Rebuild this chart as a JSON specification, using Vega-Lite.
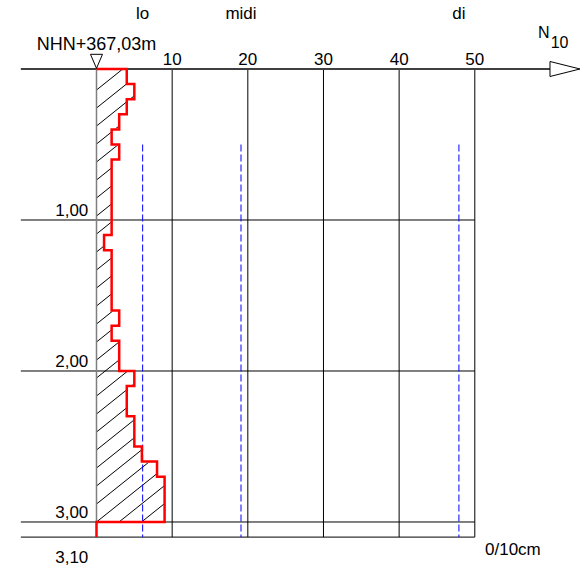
{
  "$schema": "https://vega.github.io/schema/vega-lite/v6.json",
  "width": 585,
  "height": 572,
  "padding": 0,
  "autosize": {"type": "none"},
  "background": "white",
  "config": {"view": {"stroke": null}, "axis": {"disable": true}, "text": {"font": "Liberation Sans", "fontSize": 17, "color": "black"}},
  "datasets": {
    "profile": [
      {"top": 0.0, "bottom": 0.1, "n": 4}, {"top": 0.1, "bottom": 0.2, "n": 5}, {"top": 0.2, "bottom": 0.3, "n": 4},
      {"top": 0.3, "bottom": 0.4, "n": 3}, {"top": 0.4, "bottom": 0.5, "n": 2}, {"top": 0.5, "bottom": 0.6, "n": 3},
      {"top": 0.6, "bottom": 0.7, "n": 2}, {"top": 0.7, "bottom": 0.8, "n": 2}, {"top": 0.8, "bottom": 0.9, "n": 2},
      {"top": 0.9, "bottom": 1.0, "n": 2}, {"top": 1.0, "bottom": 1.1, "n": 2}, {"top": 1.1, "bottom": 1.2, "n": 1},
      {"top": 1.2, "bottom": 1.3, "n": 2}, {"top": 1.3, "bottom": 1.4, "n": 2}, {"top": 1.4, "bottom": 1.5, "n": 2},
      {"top": 1.5, "bottom": 1.6, "n": 2}, {"top": 1.6, "bottom": 1.7, "n": 3}, {"top": 1.7, "bottom": 1.8, "n": 2},
      {"top": 1.8, "bottom": 1.9, "n": 3}, {"top": 1.9, "bottom": 2.0, "n": 3}, {"top": 2.0, "bottom": 2.1, "n": 5},
      {"top": 2.1, "bottom": 2.2, "n": 4}, {"top": 2.2, "bottom": 2.3, "n": 4}, {"top": 2.3, "bottom": 2.4, "n": 5},
      {"top": 2.4, "bottom": 2.5, "n": 5}, {"top": 2.5, "bottom": 2.6, "n": 6}, {"top": 2.6, "bottom": 2.7, "n": 8},
      {"top": 2.7, "bottom": 2.8, "n": 9}, {"top": 2.8, "bottom": 2.9, "n": 9}, {"top": 2.9, "bottom": 3.0, "n": 9}
    ],
    "outline": [
      {"i": 0, "n": 0, "d": 0.0}, {"i": 1, "n": 4, "d": 0.0}, {"i": 2, "n": 5, "d": 0.1}, {"i": 3, "n": 4, "d": 0.2},
      {"i": 4, "n": 3, "d": 0.3}, {"i": 5, "n": 2, "d": 0.4}, {"i": 6, "n": 3, "d": 0.5}, {"i": 7, "n": 2, "d": 0.6},
      {"i": 8, "n": 1, "d": 1.1}, {"i": 9, "n": 2, "d": 1.2}, {"i": 10, "n": 3, "d": 1.6}, {"i": 11, "n": 2, "d": 1.7},
      {"i": 12, "n": 3, "d": 1.8}, {"i": 13, "n": 5, "d": 2.0}, {"i": 14, "n": 4, "d": 2.1}, {"i": 15, "n": 5, "d": 2.3},
      {"i": 16, "n": 6, "d": 2.5}, {"i": 17, "n": 8, "d": 2.6}, {"i": 18, "n": 9, "d": 2.7}, {"i": 19, "n": 0, "d": 3.0},
      {"i": 20, "n": 0, "d": 3.1}
    ],
    "hatch": [
      {"d0": 0.1392, "d1": -0.2295}, {"d0": 0.2584, "d1": -0.1103}, {"d0": 0.3776, "d1": 0.0089}, {"d0": 0.4968, "d1": 0.1281},
      {"d0": 0.6160, "d1": 0.2473}, {"d0": 0.7352, "d1": 0.3665}, {"d0": 0.8544, "d1": 0.4857}, {"d0": 0.9736, "d1": 0.6049},
      {"d0": 1.0928, "d1": 0.7241}, {"d0": 1.2120, "d1": 0.8433}, {"d0": 1.3312, "d1": 0.9625}, {"d0": 1.4504, "d1": 1.0817},
      {"d0": 1.5696, "d1": 1.2009}, {"d0": 1.6888, "d1": 1.3201}, {"d0": 1.8080, "d1": 1.4393}, {"d0": 1.9272, "d1": 1.5585},
      {"d0": 2.0464, "d1": 1.6777}, {"d0": 2.1656, "d1": 1.7969}, {"d0": 2.2848, "d1": 1.9161}, {"d0": 2.4040, "d1": 2.0353},
      {"d0": 2.5232, "d1": 2.1545}, {"d0": 2.6424, "d1": 2.2737}, {"d0": 2.7616, "d1": 2.3929}, {"d0": 2.8808, "d1": 2.5121},
      {"d0": 3.0000, "d1": 2.6313}, {"d0": 3.1192, "d1": 2.7505}, {"d0": 3.2384, "d1": 2.8697}, {"d0": 3.3576, "d1": 2.9889}
    ],
    "grid": [{"v": 10}, {"v": 20}, {"v": 30}, {"v": 40}, {"v": 50}],
    "levels": [{"d": 1.0, "label": "1,00"}, {"d": 2.0, "label": "2,00"}, {"d": 3.0, "label": "3,00"}, {"d": 3.1, "label": ""}],
    "refs": [{"name": "lo", "n": 6.1}, {"name": "midi", "n": 19.1}, {"name": "di", "n": 47.9}]
  },
  "layer": [
    {
      "data": {"name": "hatch"},
      "mark": {"type": "rule", "color": "black", "strokeWidth": 1},
      "encoding": {
        "x": {"datum": 0, "type": "quantitative", "scale": {"domain": [-12.754, 64.565], "nice": false, "zero": false}},
        "x2": {"datum": 9.2},
        "y": {"field": "d0", "type": "quantitative", "scale": {"domain": [-0.45695, 3.33113], "nice": false, "zero": false, "reverse": true}},
        "y2": {"field": "d1"}
      }
    },
    {
      "data": {"name": "profile"},
      "mark": {"type": "rect", "fill": "white", "yOffset": -1, "y2Offset": 1},
      "encoding": {
        "x": {"field": "n", "type": "quantitative"},
        "x2": {"datum": 9.3},
        "y": {"field": "top", "type": "quantitative"},
        "y2": {"field": "bottom"}
      }
    },
    {
      "data": {"values": [{}]},
      "mark": {"type": "rect", "fill": "white"},
      "encoding": {
        "x": {"datum": 0, "type": "quantitative"},
        "x2": {"datum": 9.3},
        "y": {"datum": -0.4, "type": "quantitative"},
        "y2": {"datum": 0}
      }
    },
    {
      "data": {"values": [{}]},
      "mark": {"type": "rect", "fill": "white"},
      "encoding": {
        "x": {"datum": -0.5, "type": "quantitative"},
        "x2": {"datum": 9.3},
        "y": {"datum": 3.0, "type": "quantitative"},
        "y2": {"datum": 3.45}
      }
    },
    {
      "data": {"name": "levels"},
      "mark": {"type": "rule", "color": "black", "strokeWidth": 1},
      "encoding": {
        "x": {"datum": -10, "type": "quantitative"},
        "x2": {"datum": 50},
        "y": {"field": "d", "type": "quantitative"}
      }
    },
    {
      "data": {"name": "grid"},
      "mark": {"type": "rule", "color": "black", "strokeWidth": 1},
      "encoding": {
        "x": {"field": "v", "type": "quantitative"},
        "y": {"datum": 0, "type": "quantitative"},
        "y2": {"datum": 3.1}
      }
    },
    {
      "data": {"values": [{}]},
      "mark": {"type": "rule", "color": "#404040", "strokeWidth": 2},
      "encoding": {
        "x": {"datum": -10, "type": "quantitative"},
        "x2": {"datum": 60},
        "y": {"datum": 0, "type": "quantitative"}
      }
    },
    {
      "data": {"values": [{}]},
      "mark": {"type": "rule", "color": "#7f7f7f", "strokeWidth": 1.5},
      "encoding": {
        "x": {"datum": 0, "type": "quantitative"},
        "y": {"datum": 0, "type": "quantitative"},
        "y2": {"datum": 3.0}
      }
    },
    {
      "data": {"name": "refs"},
      "mark": {"type": "rule", "color": "#0000ff", "strokeWidth": 1, "strokeDash": [7, 3]},
      "encoding": {
        "x": {"field": "n", "type": "quantitative"},
        "y": {"datum": 0.5, "type": "quantitative"},
        "y2": {"datum": 3.1}
      }
    },
    {
      "data": {"name": "outline"},
      "mark": {"type": "line", "color": "#ff0000", "strokeWidth": 2.5, "interpolate": "step-before"},
      "encoding": {
        "x": {"field": "n", "type": "quantitative"},
        "y": {"field": "d", "type": "quantitative"},
        "order": {"field": "i", "type": "quantitative"}
      }
    },
    {
      "data": {"values": [{}]},
      "mark": {"type": "point", "shape": "M -0.86 -1 L 0.86 -1 L 0 1 Z", "size": 196, "filled": true, "fill": "white", "stroke": "black", "strokeWidth": 1, "opacity": 1},
      "encoding": {
        "x": {"datum": 0, "type": "quantitative"},
        "y": {"datum": -0.051, "type": "quantitative"}
      }
    },
    {
      "data": {"values": [{}]},
      "mark": {"type": "point", "shape": "M -1 -0.5 L 1 0 L -1 0.5 Z", "size": 900, "filled": true, "fill": "white", "stroke": "black", "strokeWidth": 1, "opacity": 1},
      "encoding": {
        "x": {"datum": 61.92, "type": "quantitative"},
        "y": {"datum": 0, "type": "quantitative"}
      }
    },
    {
      "data": {"name": "grid"},
      "mark": {"type": "text", "align": "center", "baseline": "alphabetic"},
      "encoding": {
        "x": {"field": "v", "type": "quantitative"},
        "y": {"datum": -0.0265, "type": "quantitative"},
        "text": {"field": "v", "type": "quantitative"}
      }
    },
    {
      "data": {"name": "refs"},
      "mark": {"type": "text", "align": "center", "baseline": "alphabetic"},
      "encoding": {
        "x": {"field": "n", "type": "quantitative"},
        "y": {"datum": -0.328, "type": "quantitative"},
        "text": {"field": "name", "type": "nominal"}
      }
    },
    {
      "data": {"name": "levels"},
      "mark": {"type": "text", "align": "right", "baseline": "alphabetic", "dy": -4},
      "encoding": {
        "x": {"datum": -1.08, "type": "quantitative"},
        "y": {"field": "d", "type": "quantitative"},
        "text": {"field": "label", "type": "nominal"}
      }
    },
    {
      "data": {"values": [{}]},
      "mark": {"type": "text", "align": "right", "baseline": "alphabetic", "text": "3,10"},
      "encoding": {
        "x": {"datum": -1.08, "type": "quantitative"},
        "y": {"datum": 3.2695, "type": "quantitative"}
      }
    },
    {
      "data": {"values": [{}]},
      "mark": {"type": "text", "align": "center", "baseline": "alphabetic", "text": "NHN+367,03m", "fontSize": 18},
      "encoding": {
        "x": {"datum": 0, "type": "quantitative"},
        "y": {"datum": -0.126, "type": "quantitative"}
      }
    },
    {
      "data": {"values": [{}]},
      "mark": {"type": "text", "align": "left", "baseline": "alphabetic", "text": "N", "fontSize": 16},
      "encoding": {
        "x": {"datum": 58.35, "type": "quantitative"},
        "y": {"datum": -0.203, "type": "quantitative"}
      }
    },
    {
      "data": {"values": [{}]},
      "mark": {"type": "text", "align": "left", "baseline": "alphabetic", "text": "10", "fontSize": 16},
      "encoding": {
        "x": {"datum": 60.03, "type": "quantitative"},
        "y": {"datum": -0.139, "type": "quantitative"}
      }
    },
    {
      "data": {"values": [{}]},
      "mark": {"type": "text", "align": "left", "baseline": "alphabetic", "text": "0/10cm", "fontSize": 17},
      "encoding": {
        "x": {"datum": 51.35, "type": "quantitative"},
        "y": {"datum": 3.219, "type": "quantitative"}
      }
    }
  ]
}
